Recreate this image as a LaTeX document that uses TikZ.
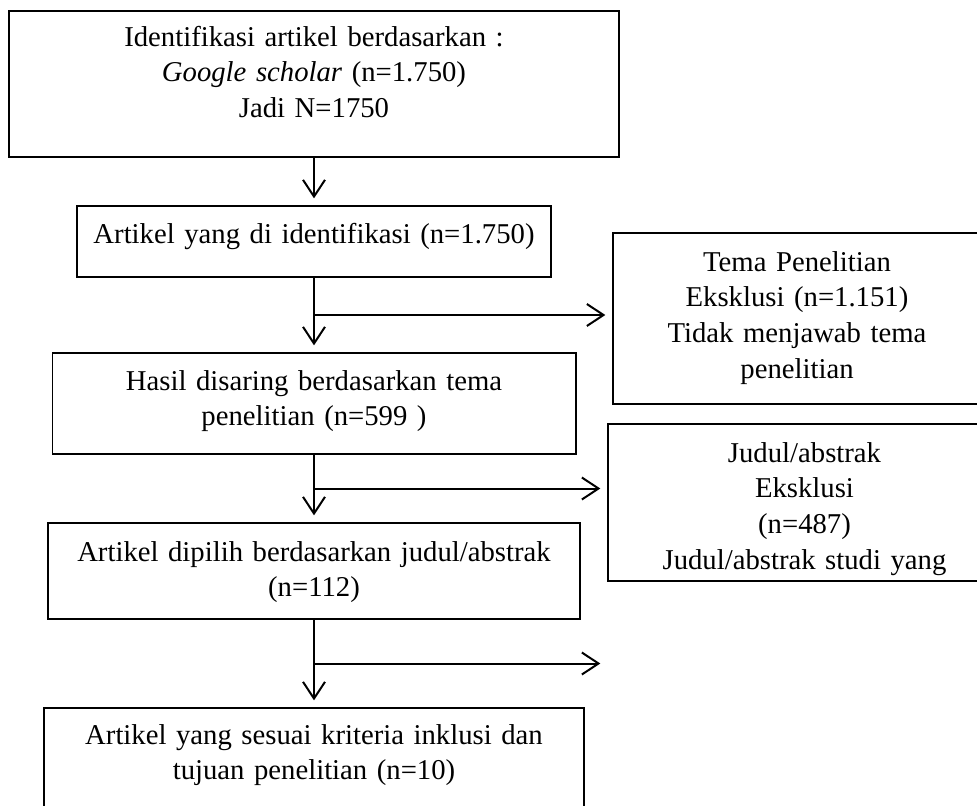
\documentclass[tikz,border=0pt]{standalone}
\usepackage{fontspec}
\setmainfont{Liberation Serif}
\usetikzlibrary{positioning,arrows.meta,calc}

\begin{document}
\begin{tikzpicture}[
  font=\fontsize{24.5}{30.5}\selectfont,
  box/.style={rectangle, draw, line width=1.7pt, inner sep=0pt, align=center, anchor=north},
  ar/.style={-{Straight Barb[length=0.5cm, width=0.66cm]}, line width=1.7pt, shorten >=0.2cm}
]
\useasboundingbox (0,0) rectangle (29.31,-24.15);
\clip (0,0) rectangle (29.31,-24.15);
% main column
\node[box, text width=18.3cm, text height=1.05cm, text depth=3.33cm] (b1) at (9.42,-0.30)
  {Identifikasi artikel berdasarkan :\\ \textit{Google scholar} (n=1.750)\\ Jadi N=1750};
\node[box, text width=14.22cm, text height=1.11cm, text depth=1.02cm] (b2) at (9.42,-6.15)
  {Artikel yang di identifikasi (n=1.750)};
\node[box, text width=15.69cm, text height=1.11cm, text depth=1.92cm] (b3) at (9.42,-10.56)
  {Hasil disaring berdasarkan tema\\ penelitian (n=599 )};
\node[box, text width=15.96cm, text height=1.14cm, text depth=1.74cm] (b4) at (9.42,-15.66)
  {Artikel dipilih berdasarkan judul/abstrak\\ (n=112)};
\node[box, text width=16.2cm, text height=1.08cm, text depth=3.0cm] (b5) at (9.42,-21.21)
  {Artikel yang sesuai kriteria inklusi dan\\ tujuan penelitian (n=10)};
% exclusions
\node[box, anchor=north west, text width=11.04cm, text height=1.14cm, text depth=3.99cm] (r1) at (18.36,-6.96)
  {Tema Penelitian\\ Eksklusi (n=1.151)\\ Tidak menjawab tema\\ penelitian};
\node[box, anchor=north west, text width=11.79cm, text height=1.14cm, text depth=3.57cm] (r2) at (18.21,-12.69)
  {Judul/abstrak\\ Eksklusi\\ (n=487)\\ Judul/abstrak studi yang};

\coordinate (j1) at ($(b2.south)!0.5!(b3.north)$);
\coordinate (j2) at ($(b3.south)!0.5!(b4.north)$);
\coordinate (j3) at ($(b4.south)!0.5!(b5.north)$);
\coordinate (e3) at (j3 -| r2.west);

\draw[ar] (b1) -- (b2);
\draw[ar] (b2) -- (b3);
\draw[ar] (b3) -- (b4);
\draw[ar] (b4) -- (b5);
\draw[ar] (j1) -- (j1 -| r1.west);
\draw[ar] (j2) -- (j2 -| r2.west);
\draw[ar] (j3) -- (e3);
\end{tikzpicture}
\end{document}
